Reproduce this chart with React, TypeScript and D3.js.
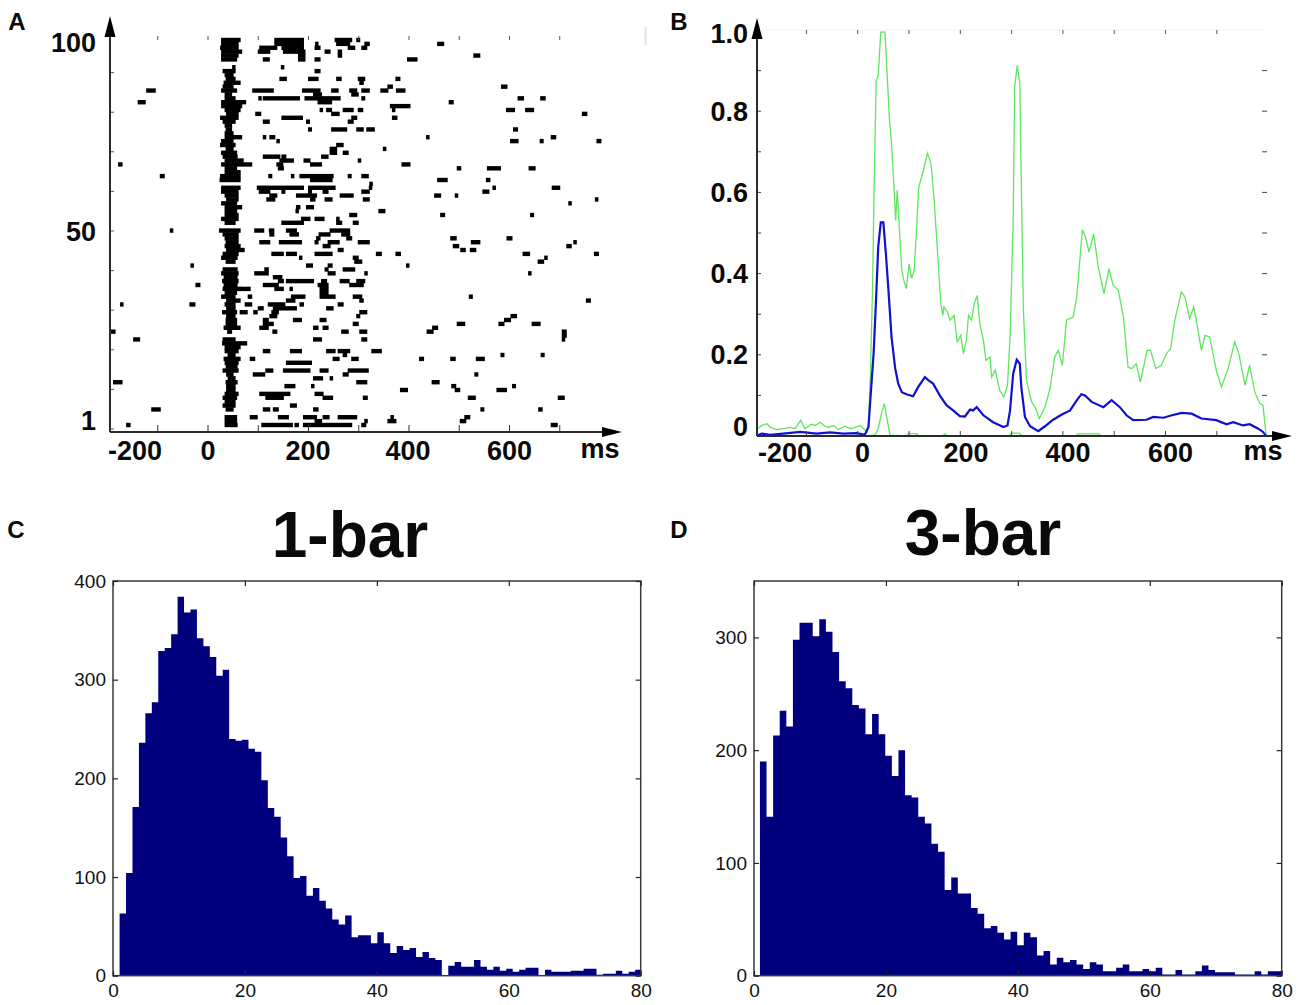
import * as d3 from 'd3';
import { useEffect, useRef } from 'react';

type Run = [number, number];

// trial number, then spike runs as [start ms, end ms]
const rasterTrials: [number, Run[]][] = [
  [100, [[27,64],[133,190],[253,286],[296,302]]],
  [99, [[27,60],[133,190],[214,218],[256,282],[312,321],[457,469]]],
  [98, [[25,60],[103,137],[147,190],[213,223],[279,292],[306,316]]],
  [97, [[27,67],[100,123],[150,193],[233,243],[259,266]]],
  [96, [[27,60],[180,193],[259,266],[529,541]]],
  [95, [[27,57],[110,122],[180,193],[213,223],[397,416]]],
  [93, [[49,53],[146,150]]],
  [92, [[30,54],[213,223]]],
  [91, [[34,50]]],
  [90, [[36,54],[143,156],[200,219],[256,265],[299,312],[374,382]]],
  [89, [[32,64],[302,309]]],
  [88, [[30,50],[358,367],[584,595]]],
  [87, [[-122,-105],[27,57],[89,130],[188,223],[246,259],[282,296],[306,321],[344,358],[375,392]]],
  [86, [[34,47],[210,226],[286,299]]],
  [85, [[34,54],[101,104],[110,182],[193,263],[306,312],[617,628],[662,671]]],
  [84, [[-139,-125],[27,75],[219,246],[480,488]]],
  [83, [[27,67],[363,402]]],
  [82, [[34,64],[223,226],[236,246],[269,289],[299,308],[367,370],[594,610],[632,648]]],
  [81, [[37,60],[95,105],[246,261],[745,754]]],
  [80, [[25,60],[147,188],[286,296],[367,376]]],
  [79, [[30,54],[110,122],[196,202],[279,289]]],
  [78, [[34,47]]],
  [77, [[36,47],[200,206],[246,276],[296,309],[316,331],[608,616]]],
  [76, [[34,50]]],
  [75, [[34,67],[110,113],[123,133],[435,439],[683,692]]],
  [74, [[27,50],[137,140],[602,617],[661,667],[774,782]]],
  [73, [[25,54],[256,269]]],
  [72, [[36,50],[243,256],[349,352]]],
  [71, [[27,57],[243,256],[269,279]]],
  [70, [[30,58],[110,143],[147,155],[226,239]]],
  [69, [[34,70],[143,170],[191,203],[299,303]]],
  [68, [[-178,-171],[27,87],[137,149],[204,226],[386,402]]],
  [67, [[34,57],[140,150],[496,503],[556,582],[639,651]]],
  [66, [[34,64]]],
  [65, [[-95,-87],[25,64],[121,127],[166,170],[183,249],[279,285],[306,319]]],
  [64, [[24,64],[204,247],[457,476],[554,561]]],
  [63, [[322,327]]],
  [62, [[27,64],[98,190],[200,253],[321,326],[567,571],[685,700]]],
  [61, [[27,60],[102,123],[147,153],[200,206],[229,239],[306,321],[547,559]]],
  [60, [[34,60],[123,137],[176,216],[263,289],[451,463],[492,496]]],
  [59, [[37,60],[117,133],[204,213],[233,247],[309,321],[771,775]]],
  [58, [[27,57],[718,722]]],
  [57, [[34,67],[176,183],[196,210]]],
  [56, [[34,57],[175,180],[340,352]]],
  [55, [[34,60],[282,296],[463,471],[642,648]]],
  [54, [[27,60],[186,203],[213,231],[256,259]]],
  [53, [[34,54],[147,190],[256,266],[289,299]]],
  [51, [[-75,-71],[23,64],[93,111],[122,131],[156,176],[243,282]]],
  [50, [[30,60],[123,131],[163,180],[221,243],[266,282]]],
  [49, [[34,60],[216,223],[276,286],[483,494],[595,605]]],
  [48, [[36,60],[103,123],[142,186],[213,219],[239,261],[299,321],[524,541],[728,732]]],
  [47, [[34,64],[229,243],[488,499],[714,723]]],
  [46, [[37,72],[259,269],[503,512],[522,533]]],
  [45, [[30,60],[127,150],[156,176],[213,247],[335,345],[374,383],[627,640],[769,777]]],
  [44, [[27,58],[182,186],[289,299],[670,675]]],
  [43, [[36,54],[292,306],[657,668]]],
  [42, [[-34,-30],[196,208],[239,247],[395,400]]],
  [41, [[30,58],[113,120],[233,239],[269,292]]],
  [40, [[27,60],[93,120],[239,253],[312,316],[638,642]]],
  [39, [[32,58],[130,147]]],
  [38, [[29,60],[140,150],[156,210],[226,236],[263,281],[296,312]]],
  [37, [[-24,-16],[32,58],[110,140],[219,239],[282,309]]],
  [36, [[30,64],[64,84],[133,150],[163,166],[223,239]]],
  [35, [[34,57],[223,239]]],
  [34, [[27,54],[80,87],[166,193],[223,253],[289,306],[520,526]]],
  [33, [[37,64],[156,173],[302,309],[753,761]]],
  [32, [[-174,-171],[-36,-26],[34,54],[74,87],[120,153],[183,190],[259,269]]],
  [31, [[37,54],[100,110],[130,176],[236,249]]],
  [30, [[29,57],[64,78],[91,98],[127,140],[302,316]]],
  [29, [[37,54],[123,137],[296,302],[603,614]]],
  [28, [[36,57],[110,120],[170,186],[223,235],[590,602]]],
  [27, [[36,57],[110,130],[289,299],[496,511],[579,589],[645,661]]],
  [26, [[32,64],[103,120],[210,219],[229,239],[447,457]]],
  [25, [[-195,-185],[39,47],[129,137],[266,279],[302,316],[436,448],[705,713]]],
  [24, [[705,713]]],
  [23, [[-148,-136],[30,54],[210,226],[306,316],[705,709]]],
  [22, [[29,77]]],
  [21, [[34,64]]],
  [20, [[34,60],[110,123],[164,186],[236,253],[259,282],[326,345]]],
  [19, [[40,54],[269,276],[583,589],[663,669]]],
  [18, [[32,64],[84,93],[249,261],[286,299],[421,429],[483,492],[534,550]]],
  [17, [[34,60],[156,206]]],
  [16, [[36,58]]],
  [15, [[30,60],[115,129],[150,203],[223,239],[279,319]]],
  [14, [[37,50],[90,113],[269,279],[531,537]]],
  [13, [[40,54],[210,228],[243,246]]],
  [12, [[-188,-171],[36,58],[296,316],[446,460]]],
  [11, [[37,54],[153,173],[206,210],[485,493],[606,612]]],
  [10, [[37,54],[383,397],[492,501],[575,594]]],
  [9, [[34,60],[103,163],[213,229]]],
  [8, [[30,57],[115,150],[229,248],[309,317],[518,532],[697,709]]],
  [7, [[34,54]]],
  [6, [[30,54],[164,176]]],
  [5, [[-112,-95],[36,50],[110,123],[130,140],[210,219],[543,549],[658,665]]],
  [3, [[34,57],[84,98],[140,160],[190,216],[229,241],[259,296],[364,367],[511,521]]],
  [2, [[34,57],[213,226],[312,317],[358,374],[502,513]]],
  [1, [[-162,-155],[34,58],[107,168],[173,180],[190,286],[306,314],[683,695]]],
];

// panel B, upper green trace
const upperMs = [-195,-187,-177,-171,-158,-145,-132,-122,-111,-103,-90,-83,-73,-64,-57,-47,-38,-25,-15,-5,5,18,21,25,29,32,36,40,45,53,58,62,66,71,74,77,81,86,90,95,100,105,110,115,119,128,136,143,149,155,162,166,168,175,180,188,194,201,206,212,216,222,227,233,238,245,250,258,261,268,277,285,292,297,303,306,311,316,319,323,329,339,346,354,365,375,384,391,399,407,420,427,433,438,444,451,460,469,480,490,498,508,518,527,534,543,551,564,571,581,592,602,610,618,631,638,647,655,660,670,677,686,699,709,722,735,743,755,764,774,784,790,795,797];
const upperVal = [.018,.026,.03,.022,.016,.018,.021,.018,.039,.018,.029,.026,.034,.024,.021,.026,.016,.024,.018,.021,.026,.01,.026,.162,.367,.613,.876,.888,.995,.995,.876,.778,.72,.605,.531,.605,.515,.408,.383,.363,.424,.388,.408,.515,.613,.654,.697,.671,.58,.466,.326,.297,.318,.305,.285,.297,.232,.248,.203,.236,.297,.285,.326,.346,.277,.236,.186,.195,.145,.162,.112,.096,.125,.244,.531,.86,.913,.868,.613,.31,.137,.084,.071,.043,.071,.117,.195,.211,.174,.285,.293,.342,.433,.508,.49,.453,.498,.416,.351,.412,.371,.359,.293,.17,.166,.178,.133,.211,.211,.166,.174,.203,.215,.285,.355,.342,.289,.318,.285,.211,.248,.244,.162,.121,.166,.232,.203,.125,.174,.108,.08,.076,.014,.002];

// panel B, mean trace
const meanMs = [-195,-187,-171,-145,-112,-80,-54,-28,-2,14,21,25,31,36,40,45,50,55,60,66,73,79,86,95,108,118,131,138,147,160,173,186,199,209,219,225,232,245,264,284,292,297,303,310,316,319,326,336,352,365,381,398,414,427,436,443,456,479,495,511,524,537,563,576,596,609,631,651,670,699,719,732,751,764,781,790,795];
const meanVal = [.002,.006,.003,.006,.01,.006,.009,.006,.007,.003,.022,.096,.203,.342,.466,.526,.526,.448,.358,.243,.167,.129,.108,.103,.098,.121,.145,.137,.129,.1,.076,.063,.049,.048,.065,.063,.071,.051,.034,.022,.026,.063,.153,.188,.178,.12,.047,.024,.012,.024,.04,.053,.063,.088,.103,.1,.084,.071,.088,.071,.051,.039,.04,.047,.045,.05,.057,.055,.043,.039,.029,.034,.026,.029,.018,.01,.002];

// panel B, lower green trace
const lowerMs = [19,34,40,47,52,57,63,95,100,115,120,165,170,175,295,300,315,320,425,430,470,475];
const lowerVal = [0,.003,.018,.059,.08,.043,.002,0,.006,.006,0,0,.005,0,0,.007,.007,0,0,.005,.005,0];

// histogram counts, one per bin
const oneBarCounts = [63,104,171,236,266,277,329,332,346,384,368,371,342,334,323,304,310,240,238,239,230,227,198,170,161,140,121,99,101,81,89,76,68,57,52,61,39,41,41,33,44,33,23,30,26,28,19,24,18,16,0,10,14,9,9,16,9,6,9,5,7,4,6,8,8,0,6,4,4,4,5,5,7,7,1,2,2,5,2,4,6];
const threeBarCounts = [190,141,213,235,221,298,313,313,301,316,305,287,261,255,240,237,214,232,214,195,177,200,160,158,141,135,117,110,76,87,73,73,60,55,42,44,38,32,39,27,38,34,18,22,10,16,12,14,10,6,12,10,4,4,7,10,4,4,6,4,7,1,1,5,1,1,4,9,5,3,3,3,1,1,1,4,1,4,4];

const rasterMinor = d3.range(0, 101, 10);
const rasterTimeTicks = d3.range(-100, 701, 100);
const rateYTicks = [0, 0.2, 0.4, 0.6, 0.8, 1.0];
const rateMinor = d3.range(0.1, 0.95, 0.1);
const rateTimeTicks = d3.range(-100, 701, 100);
const msLabels = [-200, 0, 200, 400, 600];
const histXTicks = [0, 20, 40, 60, 80];

const FONT = '"Liberation Sans", Arial, sans-serif';
const AXIS = '#2b2b2b';
const NAVY = '#00007f';
const GREEN = '#5fe65f';
const BLUE = '#1010d0';

type G = d3.Selection<SVGGElement, unknown, null, undefined>;

function boldText(g: G, x: number, y: number, str: string, size: number, anchor = 'middle') {
  g.append('text')
    .attr('x', x)
    .attr('y', y)
    .attr('text-anchor', anchor)
    .attr('font-family', FONT)
    .attr('font-weight', 700)
    .attr('font-size', size)
    .attr('fill', '#0a0a0a')
    .text(str);
}

function arrowAxes(g: G, x0: number, y0: number, top: number, right: number) {
  g.append('path').attr('d', `M${x0},${y0}V${top + 18}M${x0},${y0}H${right - 18}`)
    .attr('stroke', AXIS).attr('stroke-width', 2).attr('fill', 'none');
  g.append('path').attr('d', d3.line()([[x0 - 5.5, top + 21], [x0, top], [x0 + 5.5, top + 21]])!).attr('fill', '#000');
  g.append('path').attr('d', d3.line()([[right - 20, y0 - 5], [right, y0], [right - 20, y0 + 5]])!).attr('fill', '#000');
}

function drawRaster(g: G) {
  const x = d3.scaleLinear().domain([0, 600]).range([208, 509.5]);
  const y = d3.scaleLinear().domain([1, 100]).range([425, 40]);
  const minorY = d3.scaleLinear().domain([0, 100]).range([429, 33]);

  g.append('g').selectAll('rect')
    .data(rasterTrials.flatMap(([trial, runs]) => runs.map(run => ({ trial, run }))))
    .join('rect')
    .attr('x', d => x(d.run[0]) - 0.5)
    .attr('y', d => y(d.trial) - 2.2)
    .attr('width', d => Math.max(x(d.run[1]) - x(d.run[0]) + 1, 3.5))
    .attr('height', 4.4)
    .attr('fill', '#000');

  g.append('g').selectAll('line.b').data(rasterTimeTicks).join('line')
    .attr('x1', d => x(d)).attr('x2', d => x(d)).attr('y1', 425).attr('y2', 431)
    .attr('stroke', '#333').attr('stroke-width', 1);
  g.append('g').selectAll('line.t').data(rasterTimeTicks).join('line')
    .attr('x1', d => x(d)).attr('x2', d => x(d)).attr('y1', 36).attr('y2', 40)
    .attr('stroke', '#555').attr('stroke-width', 1);
  g.append('g').selectAll('line.l').data(rasterMinor).join('line')
    .attr('x1', 110).attr('x2', 114).attr('y1', d => minorY(d)).attr('y2', d => minorY(d))
    .attr('stroke', '#555').attr('stroke-width', 1);
  g.append('line').attr('x1', 645.5).attr('x2', 645.5).attr('y1', 27).attr('y2', 45)
    .attr('stroke', '#e2e2e2').attr('stroke-width', 2);

  arrowAxes(g, 110, 432, 16, 622);

  // printed labels sit a little off their ticks in the original
  const labelX = [135, 208, 308, 408, 509.5];
  msLabels.forEach((v, i) => boldText(g, labelX[i], 460, String(v), 27));
  boldText(g, 600, 458, 'ms', 27);
  [1, 50, 100].forEach(v => boldText(g, 96, (v === 1 ? 420 : v === 50 ? 231 : 42) + 9.5, String(v), 27, 'end'));
}

function drawRate(g: G) {
  const x = d3.scaleLinear().domain([0, 600]).range([857.7, 1165.5]);
  const y = d3.scaleLinear().domain([0, 1]).range([436, 30]);
  const line = (ms: number[], val: number[]) =>
    d3.line<number>().x(d => x(d)).y((_, i) => y(val[i]))(ms) as string;

  g.append('line').attr('x1', 757).attr('x2', 1264).attr('y1', 30).attr('y2', 30)
    .attr('stroke', '#f2f2f2').attr('stroke-width', 1);
  g.append('path').attr('d', line(upperMs, upperVal)).attr('fill', 'none').attr('stroke', GREEN).attr('stroke-width', 1.3);
  g.append('path').attr('d', line(lowerMs, lowerVal)).attr('fill', 'none').attr('stroke', GREEN).attr('stroke-width', 1.3);
  g.append('path').attr('d', line(meanMs, meanVal)).attr('fill', 'none').attr('stroke', BLUE).attr('stroke-width', 2.2);

  g.append('g').selectAll('line.t').data(rateTimeTicks).join('line')
    .attr('x1', d => x(d)).attr('x2', d => x(d)).attr('y1', 30).attr('y2', 34)
    .attr('stroke', '#555').attr('stroke-width', 1);
  g.append('g').selectAll('line.b').data(rateTimeTicks).join('line')
    .attr('x1', d => x(d)).attr('x2', d => x(d)).attr('y1', 431).attr('y2', 436)
    .attr('stroke', '#444').attr('stroke-width', 1);
  g.append('g').selectAll('line.r').data(rateMinor).join('line')
    .attr('x1', 1262).attr('x2', 1267).attr('y1', d => y(d)).attr('y2', d => y(d))
    .attr('stroke', '#444').attr('stroke-width', 1);
  g.append('g').selectAll('line.l').data(rateMinor).join('line')
    .attr('x1', 757).attr('x2', 761).attr('y1', d => y(d)).attr('y2', d => y(d))
    .attr('stroke', '#444').attr('stroke-width', 1);

  arrowAxes(g, 757, 436, 18, 1292);

  const labelX = [785, 862.6, 966, 1068, 1170.5];
  msLabels.forEach((v, i) => boldText(g, labelX[i], 462, String(v), 27));
  boldText(g, 1263, 460, 'ms', 27);
  rateYTicks.forEach(v =>
    boldText(g, 748, (v === 1 ? 33 : v === 0 ? 426 : y(v)) + 9.5, v === 0 ? '0' : v.toFixed(1), 27, 'end'));
}

function drawHist(g: G, counts: number[], left: number, right: number, binStart: number, binWidth: number, yMax: number, yTicks: number[]) {
  const top = 581;
  const bottom = 975.7;
  const x = d3.scaleLinear().domain([0, 80]).range([left, right]);
  const y = d3.scaleLinear().domain([0, yMax]).range([bottom, top]);
  const edge = (i: number) => Math.min(right, x(binStart + i * binWidth));

  const points: [number, number][] = [[edge(0), bottom]];
  counts.forEach((c, i) => {
    points.push([edge(i), y(c)], [edge(i + 1), y(c)]);
  });
  points.push([edge(counts.length), bottom]);
  g.append('path').attr('d', d3.line()(points)!).attr('fill', NAVY);

  g.append('rect').attr('x', left).attr('y', top).attr('width', right - left).attr('height', bottom - top)
    .attr('fill', 'none').attr('stroke', '#3a3a3a').attr('stroke-width', 1.5);

  const xAxis = d3.axisBottom(x).tickValues(histXTicks).tickSize(-5).tickPadding(8).tickFormat(d => String(d));
  const xTop = d3.axisTop(x).tickValues(histXTicks).tickSize(-5).tickFormat(() => '');
  const yLeft = d3.axisLeft(y).tickValues(yTicks).tickSize(-5).tickPadding(7).tickFormat(d => String(d));
  const yRight = d3.axisRight(y).tickValues(yTicks).tickSize(-5).tickFormat(() => '');

  const xg = g.append('g').attr('transform', `translate(0,${bottom})`).call(xAxis);
  const xt = g.append('g').attr('transform', `translate(0,${top})`).call(xTop);
  const yl = g.append('g').attr('transform', `translate(${left},0)`).call(yLeft);
  const yr = g.append('g').attr('transform', `translate(${right},0)`).call(yRight);

  [xg, xt, yl, yr].forEach(a => {
    a.selectAll('.domain').remove();
    a.selectAll('.tick line').attr('stroke', '#222').attr('stroke-width', 1.2);
    a.selectAll('.tick text').attr('font-family', FONT).attr('font-size', 19).attr('fill', '#111');
  });
}

export default function App() {
  const ref = useRef<SVGSVGElement>(null);

  useEffect(() => {
    if (!ref.current) return;
    document.body.style.margin = '0';
    const svg = d3.select(ref.current);
    svg.selectAll('*').remove();
    const g = svg.append('g') as unknown as G;

    drawRaster(g);
    drawRate(g);
    drawHist(g, oneBarCounts, 113, 640.7, 1, 0.977, 400, [0, 100, 200, 300, 400]);
    drawHist(g, threeBarCounts, 754, 1281.7, 0.9, 1, 350, [0, 100, 200, 300]);

    boldText(g, 17, 30, 'A', 24);
    boldText(g, 679, 30, 'B', 24);
    boldText(g, 16, 538, 'C', 24);
    boldText(g, 679, 538, 'D', 24);
    boldText(g, 350, 557, '1-bar', 64);
    boldText(g, 983, 555, '3-bar', 64);
  }, []);

  return <svg ref={ref} width={1300} height={1005} style={{ display: 'block', background: '#fff' }} />;
}
